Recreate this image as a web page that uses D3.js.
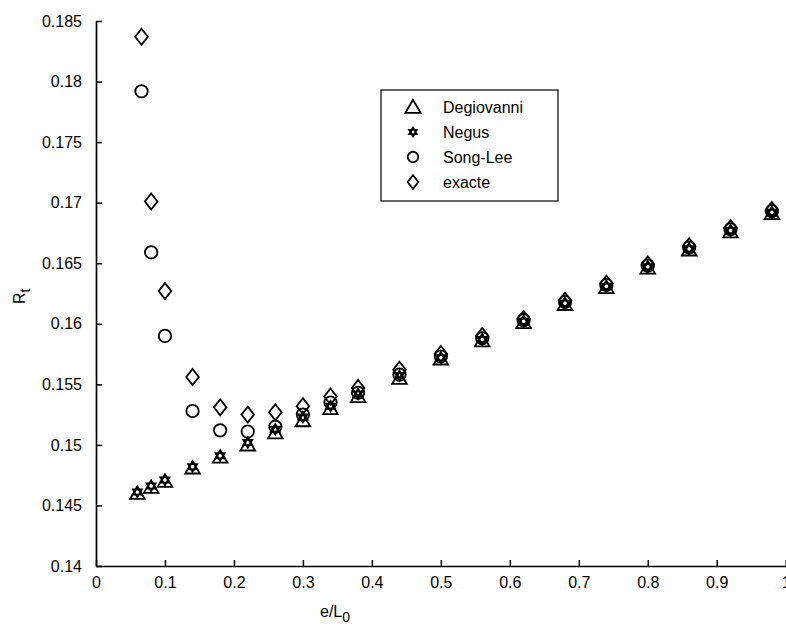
<!DOCTYPE html>
<html>
<head>
<meta charset="utf-8">
<script src="https://cdn.jsdelivr.net/npm/d3@7"></script>
<style>
  html, body { margin: 0; padding: 0; background: #fff; }
  svg { display: block; font-family: "Liberation Sans", Arial, Helvetica, sans-serif; }
</style>
</head>
<body>
<svg id="chart" width="786" height="627"></svg>
<script>
// ---- data ----
const xTicks = [0, 0.1, 0.2, 0.3, 0.4, 0.5, 0.6, 0.7, 0.8, 0.9, 1];
const xTickLabels = ["0", "0.1", "0.2", "0.3", "0.4", "0.5", "0.6", "0.7", "0.8", "0.9", "1"];
const yTicks = [0.14, 0.145, 0.15, 0.155, 0.16, 0.165, 0.17, 0.175, 0.18, 0.185];
const yTickLabels = ["0.14", "0.145", "0.15", "0.155", "0.16", "0.165", "0.17", "0.175", "0.18", "0.185"];

const xDegNegus = [0.06, 0.08, 0.10, 0.14, 0.18, 0.22, 0.26, 0.30, 0.34, 0.38, 0.44, 0.50, 0.56, 0.62, 0.68, 0.74, 0.80, 0.86, 0.92, 0.98];
const degiovanni = [0.1460, 0.1465, 0.1470, 0.1481, 0.1490, 0.1500, 0.1510, 0.1520, 0.1530, 0.1540, 0.1555, 0.1571, 0.1586, 0.1601, 0.1616, 0.1630, 0.1646, 0.1661, 0.1676, 0.1691];
const negus      = [0.1461, 0.1466, 0.1471, 0.1482, 0.1491, 0.1502, 0.1513, 0.1523, 0.1532, 0.1542, 0.1557, 0.1572, 0.1587, 0.1602, 0.1617, 0.1631, 0.1647, 0.1662, 0.1677, 0.1692];
const xSongExact = [0.066, 0.08, 0.10, 0.14, 0.18, 0.22, 0.26, 0.30, 0.34, 0.38, 0.44, 0.50, 0.56, 0.62, 0.68, 0.74, 0.80, 0.86, 0.92, 0.98];
const songLee    = [0.1792, 0.1659, 0.1590, 0.1528, 0.1512, 0.1511, 0.1515, 0.1525, 0.1535, 0.1543, 0.1558, 0.1573, 0.1588, 0.1603, 0.1618, 0.1632, 0.1648, 0.1663, 0.1678, 0.1693];
const exacte     = [0.1837, 0.1701, 0.1627, 0.1556, 0.1531, 0.1525, 0.1527, 0.1532, 0.1540, 0.1547, 0.1562, 0.1575, 0.1590, 0.1604, 0.1619, 0.1633, 0.1649, 0.1664, 0.1679, 0.1694];

const seriesNames = ["Degiovanni", "Negus", "Song-Lee", "exacte"];
const seriesShapes = ["triangle", "hexagram", "circle", "diamond"];

// ---- layout ----
const svg = d3.select("#chart");
const x = d3.scaleLinear().domain([0, 1]).range([96, 785.7]);
const y = d3.scaleLinear().domain([0.14, 0.185]).range([566, 21]);

function shapePath(shape, s) {
  s = s || 1;
  const p = d3.path();
  if (shape === "triangle") {
    p.moveTo(0, -6.8 * s); p.lineTo(7.3 * s, 5.6 * s); p.lineTo(-7.3 * s, 5.6 * s); p.closePath();
  } else if (shape === "hexagram") {
    const r = 5.2 * s;
    for (let t = 0; t < 2; t++) {
      for (let i = 0; i < 3; i++) {
        const a = -Math.PI / 2 + t * Math.PI + i * 2 * Math.PI / 3;
        if (i === 0) p.moveTo(r * Math.cos(a), r * Math.sin(a)); else p.lineTo(r * Math.cos(a), r * Math.sin(a));
      }
      p.closePath();
    }
  } else if (shape === "circle") {
    const r = 6.2 * s;
    p.moveTo(r, 0); p.arc(0, 0, r, 0, 2 * Math.PI);
  } else if (shape === "diamond") {
    p.moveTo(0, -8 * s); p.lineTo(6.3 * s, 0); p.lineTo(0, 8 * s); p.lineTo(-6.3 * s, 0); p.closePath();
  }
  return p.toString();
}

// ---- axes ----
const xAxis = d3.axisBottom(x).tickValues(xTicks)
  .tickFormat((d, i) => xTickLabels[i]).tickSizeInner(-6).tickSizeOuter(0).tickPadding(11);
const yAxis = d3.axisLeft(y).tickValues(yTicks)
  .tickFormat((d, i) => yTickLabels[i]).tickSizeInner(-6).tickSizeOuter(0).tickPadding(14);

const gx = svg.append("g").attr("transform", `translate(0,${y(0.14)})`).call(xAxis);
const gy = svg.append("g").attr("transform", `translate(${x(0)},0)`).call(yAxis);
[gx, gy].forEach(g => {
  g.selectAll(".domain").attr("stroke", "#000").attr("stroke-width", 1.7);
  g.selectAll(".tick line").attr("stroke", "#000").attr("stroke-width", 1.5);
  g.selectAll(".tick text").attr("fill", "#000").attr("font-size", 16)
    .attr("font-family", "Liberation Sans, Arial, sans-serif");
});

// axis labels
const xl = svg.append("text").attr("x", 320).attr("y", 617).attr("font-size", 16).attr("fill", "#000");
xl.append("tspan").text("e/L");
xl.append("tspan").attr("dy", 5).attr("font-size", 14).text("0");

const yl = svg.append("text").attr("transform", "translate(25,304) rotate(-90)").attr("font-size", 16).attr("fill", "#000");
yl.append("tspan").text("R");
yl.append("tspan").attr("dy", 5).attr("font-size", 14).text("t");

// ---- markers ----
const data = [
  { xs: xDegNegus, ys: degiovanni, shape: seriesShapes[0] },
  { xs: xDegNegus, ys: negus, shape: seriesShapes[1] },
  { xs: xSongExact, ys: songLee, shape: seriesShapes[2] },
  { xs: xSongExact, ys: exacte, shape: seriesShapes[3] }
];
data.forEach(s => {
  svg.append("g").selectAll("path").data(s.ys).join("path")
    .attr("d", shapePath(s.shape))
    .attr("transform", (d, i) => `translate(${x(s.xs[i])},${y(d)})`)
    .attr("fill", "none").attr("stroke", "#000").attr("stroke-width", 1.8);
});

// ---- legend ----
const lg = svg.append("g");
lg.append("rect").attr("x", 381).attr("y", 90).attr("width", 177).attr("height", 111)
  .attr("fill", "#fff").attr("stroke", "#000").attr("stroke-width", 1.2);
const rowY = [107, 132, 157, 182];
seriesNames.forEach((name, i) => {
  lg.append("path").attr("d", shapePath(seriesShapes[i], i === 0 ? 1.05 : 0.85))
    .attr("transform", `translate(413,${rowY[i]})`)
    .attr("fill", "none").attr("stroke", "#000").attr("stroke-width", 1.8);
  lg.append("text").attr("x", 443).attr("y", rowY[i]).attr("dy", "0.35em")
    .attr("font-size", 16).attr("fill", "#000").text(name);
});
</script>
</body>
</html>
